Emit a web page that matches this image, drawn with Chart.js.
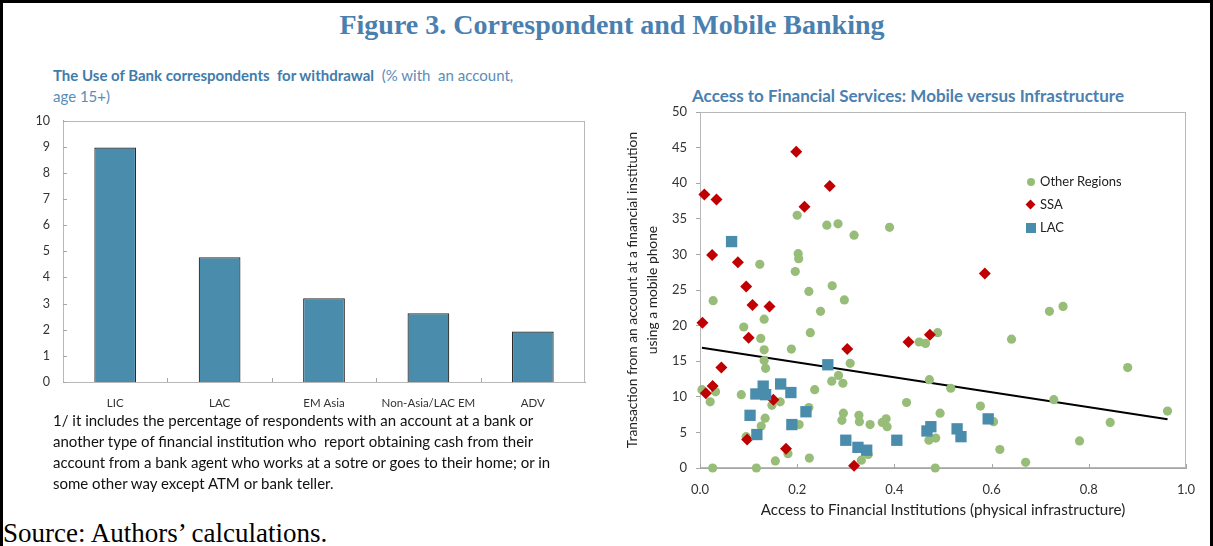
<!DOCTYPE html>
<html>
<head>
<meta charset="utf-8">
<script src="https://cdn.jsdelivr.net/npm/chart.js@4.4.1/dist/chart.umd.min.js"></script>
<style>
  body { margin: 0; background: #fff; }
  #page { position: relative; width: 1213px; height: 546px; overflow: hidden; font-family: Lato, sans-serif; }
  #frame { position: absolute; left: 0; top: 0; width: 1207px; height: 560px; border: 3px solid #000; border-bottom: none; }
  #figTitle { position: absolute; left: 0; width: 1224px; top: 9px; text-align: center; font: bold 28px "Liberation Serif", serif; color: #4A80B0; }
  #leftTitle { position: absolute; left: 53px; top: 65px; font-size: 15px; line-height: 21px; color: #5B8DB8; }
  #leftTitle b { color: #3F7CAC; }
  #note { position: absolute; left: 53px; top: 410px; font-size: 15px; line-height: 21px; color: #111; }
  #source { position: absolute; left: 3px; top: 518px; font: 27px "Liberation Serif", serif; color: #000; }
  #rightTitle { position: absolute; left: 650px; width: 516px; top: 85px; text-align: center; font-weight: bold; font-size: 17px; color: #4A80B0; }
  #legend { position: absolute; left: 1025px; top: 170px; font-size: 13px; line-height: 23px; color: #222; }
  #legend div { position: relative; padding-left: 15px; }
  .mk { position: absolute; left: 0; top: 50%; }
  .mk.circle { width: 8px; height: 8px; margin-top: -4px; border-radius: 50%; background: #97BD79; left: 2px; }
  .mk.diamond { width: 7px; height: 7px; margin-top: -4px; background: #C00000; transform: rotate(45deg); left: 2px; }
  .mk.square { width: 10px; height: 10px; margin-top: -5px; background: #4A8CAC; left: 1px; }
  canvas { position: absolute; }
  #barBox { position: absolute; left: 0; top: 100px; width: 600px; height: 315px; }
  #scatterBox { position: absolute; left: 600px; top: 80px; width: 613px; height: 445px; }
</style>
</head>
<body>
<div id="page">
  <div id="frame"></div>
  <div id="figTitle">Figure 3. Correspondent and Mobile Banking</div>
  <div id="leftTitle"><b>The Use of Bank correspondents&nbsp; for withdrawal</b>&nbsp; (% with&nbsp; an account,<br>age 15+)</div>
  <div id="barBox"><canvas id="barChart"></canvas></div>
  <div id="note">1/ it includes the percentage of respondents with an account at a bank or<br>another type of financial institution who&nbsp; report obtaining cash from their<br>account from a bank agent who works at a sotre or goes to their home; or in<br>some other way except ATM or bank teller.</div>
  <div id="source">Source: Authors’ calculations.</div>
  <div id="rightTitle">Access to Financial Services: Mobile versus Infrastructure</div>
  <div id="scatterBox"><canvas id="scatterChart"></canvas></div>
  <div id="legend">
    <div><span class="mk circle"></span>Other Regions</div>
    <div><span class="mk diamond"></span>SSA</div>
    <div><span class="mk square"></span>LAC</div>
  </div>
</div>

<script>
// left panel: bank correspondents
const regions = ["LIC", "LAC", "EM Asia", "Non-Asia/LAC EM", "ADV"];
const withdrawalShare = [8.97, 4.77, 3.2, 2.63, 1.93];

// right panel: mobile vs infrastructure
const otherX = [0.200, 0.261, 0.284, 0.317, 0.390, 0.202, 0.203, 0.123, 0.196, 0.224, 0.272, 0.297, 0.027, 0.248, 0.090,
  0.132, 0.227, 0.125, 0.132, 0.188, 0.132, 0.135, 0.309, 0.285, 0.271, 0.294, 0.004, 0.032, 0.021, 0.085,
  0.236, 0.148, 0.165, 0.224, 0.134, 0.295, 0.292, 0.327, 0.328, 0.350, 0.126, 0.204, 0.095, 0.383, 0.375,
  0.385, 0.425, 0.451, 0.464, 0.489, 0.472, 0.494, 0.471, 0.485, 0.155, 0.181, 0.225, 0.332, 0.346, 0.026,
  0.116, 0.484, 0.719, 0.747, 0.641, 0.880, 0.516, 0.577, 0.604, 0.728, 0.844, 0.962, 0.781, 0.617, 0.670];
const otherY = [35.5, 34.1, 34.3, 32.7, 33.8, 30.1, 29.4, 28.6, 27.6, 24.8, 25.6, 23.6, 23.5, 22.0, 19.8,
  20.9, 19.0, 18.2, 16.6, 16.7, 15.1, 14.0, 14.7, 13.0, 12.2, 11.9, 11.0, 10.7, 9.3, 10.3,
  11.0, 8.8, 9.3, 8.5, 7.0, 7.7, 6.7, 7.4, 6.5, 6.1, 5.9, 6.1, 4.4, 6.9, 6.4,
  5.8, 9.2, 17.7, 17.5, 19.0, 12.4, 7.7, 3.9, 4.2, 1.0, 2.0, 1.4, 1.1, 1.9, 0,
  0, 0, 22.0, 22.7, 18.1, 14.1, 11.2, 8.7, 6.5, 9.6, 6.4, 8.0, 3.8, 2.6, 0.8];
const ssaX = [0.198, 0.267, 0.009, 0.034, 0.215, 0.025, 0.078, 0.095, 0.108, 0.143, 0.005, 0.100, 0.044, 0.026,
  0.012, 0.151, 0.303, 0.429, 0.473, 0.097, 0.177, 0.317, 0.586];
const ssaY = [44.4, 39.6, 38.4, 37.7, 36.7, 29.9, 28.9, 25.5, 22.9, 22.7, 20.4, 18.3, 14.1, 11.5,
  10.5, 9.6, 16.7, 17.7, 18.7, 4.0, 2.7, 0.3, 27.3];
const lacX = [0.065, 0.263, 0.130, 0.166, 0.115, 0.135, 0.187, 0.103, 0.218, 0.189, 0.117, 0.300, 0.325, 0.343,
  0.405, 0.467, 0.475, 0.529, 0.537, 0.593];
const lacY = [31.8, 14.5, 11.5, 11.8, 10.4, 10.3, 10.6, 7.4, 7.9, 6.1, 4.7, 3.9, 2.9, 2.5,
  3.9, 5.2, 5.8, 5.5, 4.4, 6.9];
const trendX = [0.004, 0.962];
const trendY = [16.9, 6.85];

function toPoints(xs, ys) {
  return xs.map((x, i) => ({ x: x, y: ys[i] }));
}

// plot area box + the inside tick marks excel puts on its charts
const framePlugin = {
  id: "frame",
  beforeDatasetsDraw(chart, args, opts) {
    const { ctx, chartArea: a, scales } = chart;
    ctx.save();
    ctx.strokeStyle = "#b8b8b8";
    ctx.lineWidth = 1;
    ctx.strokeRect(Math.round(a.left) + 0.5, Math.round(a.top) + 0.5, Math.round(a.width) - 1, Math.round(a.height) - 1);
    ctx.strokeStyle = "#a6a6a6";
    ctx.beginPath();
    if (opts.yInside) {
      scales.y.ticks.forEach((t) => {
        const py = Math.round(scales.y.getPixelForValue(t.value)) + 0.5;
        ctx.moveTo(a.left, py);
        ctx.lineTo(a.left + 4, py);
      });
    }
    if (opts.xBounds) {
      const n = chart.data.labels.length;
      for (let i = 1; i < n; i++) {
        const px = Math.round(a.left + (a.width * i) / n) + 0.5;
        ctx.moveTo(px, a.bottom);
        ctx.lineTo(px, a.bottom - 4);
      }
    }
    if (opts.xTicks) {
      scales.x.ticks.forEach((t) => {
        const px = Math.round(scales.x.getPixelForValue(t.value)) + 0.5;
        ctx.moveTo(px, a.bottom);
        ctx.lineTo(px, a.bottom - 4);
      });
    }
    ctx.stroke();
    ctx.restore();
  },
};

Chart.defaults.font.family = "Lato, sans-serif";
Chart.defaults.color = "#333";

new Chart(document.getElementById("barChart"), {
  type: "bar",
  data: {
    labels: regions,
    datasets: [
      {
        data: withdrawalShare,
        backgroundColor: "#4A8CAC",
        borderColor: "#2b2b2b",
        borderWidth: 1.2,
        barPercentage: 0.4,
        categoryPercentage: 1,
      },
    ],
  },
  options: {
    responsive: true,
    maintainAspectRatio: false,
    animation: false,
    layout: { padding: { top: 16, right: 15, left: 0, bottom: 0 } },
    plugins: { legend: { display: false }, tooltip: { enabled: false }, frame: { yInside: true, xBounds: true } },
    scales: {
      x: {
        grid: { display: false, drawTicks: false },
        border: { color: "#a6a6a6" },
        ticks: { font: { size: 11.5 }, padding: 14, maxRotation: 0 },
        afterFit: (s) => { s.height = 33; },
      },
      y: {
        min: 0,
        max: 10,
        grid: { display: false, drawTicks: false },
        border: { color: "#a6a6a6" },
        ticks: { stepSize: 1, font: { size: 12.5 }, padding: 13 },
        afterFit: (s) => { s.width = 63; },
      },
    },
  },
  plugins: [framePlugin],
});

new Chart(document.getElementById("scatterChart"), {
  type: "scatter",
  data: {
    datasets: [
      {
        label: "Other Regions",
        data: toPoints(otherX, otherY),
        backgroundColor: "#97BD79",
        borderWidth: 0,
        pointStyle: "circle",
        pointRadius: 4.6,
        order: 2,
        clip: false,
      },
      {
        label: "SSA",
        data: toPoints(ssaX, ssaY),
        backgroundColor: "#C00000",
        borderWidth: 0,
        pointStyle: "rectRot",
        pointRadius: 6,
        order: 1,
        clip: false,
      },
      {
        label: "LAC",
        data: toPoints(lacX, lacY),
        backgroundColor: "#4A8CAC",
        borderWidth: 0,
        pointStyle: "rect",
        pointRadius: 8,
        order: 0,
        clip: false,
      },
      {
        label: "trend",
        type: "line",
        data: toPoints(trendX, trendY),
        borderColor: "#000",
        borderWidth: 2,
        pointRadius: 0,
        order: 3,
      },
    ],
  },
  options: {
    responsive: true,
    maintainAspectRatio: false,
    animation: false,
    layout: { padding: { top: 32, right: 27, left: 0, bottom: 0 } },
    plugins: { legend: { display: false }, tooltip: { enabled: false }, frame: { xTicks: true } },
    scales: {
      x: {
        type: "linear",
        min: 0,
        max: 1,
        grid: { display: false, drawTicks: false },
        border: { color: "#a6a6a6" },
        ticks: { stepSize: 0.2, font: { size: 13 }, padding: 14, callback: (v) => v.toFixed(1) },
        title: {
          display: true,
          text: "Access to Financial Institutions (physical infrastructure)",
          font: { size: 15.2, lineHeight: 1.3 },
          color: "#222",
          padding: { top: 0, bottom: 5 },
        },
        afterFit: (s) => { s.height = 57; },
      },
      y: {
        min: 0,
        max: 50,
        grid: { display: true, drawOnChartArea: false, drawTicks: true, tickLength: 4, color: "#a6a6a6" },
        border: { color: "#a6a6a6" },
        ticks: { stepSize: 5, font: { size: 13 }, padding: 9 },
        title: {
          display: true,
          text: ["Transaction from an account at a financial institution", "using a mobile phone"],
          font: { size: 13.8, lineHeight: 1.46 },
          color: "#222",
          padding: { top: 22, bottom: 0 },
        },
        afterFit: (s) => { s.width = 100; },
      },
    },
  },
  plugins: [framePlugin],
});
</script>
</body>
</html>
